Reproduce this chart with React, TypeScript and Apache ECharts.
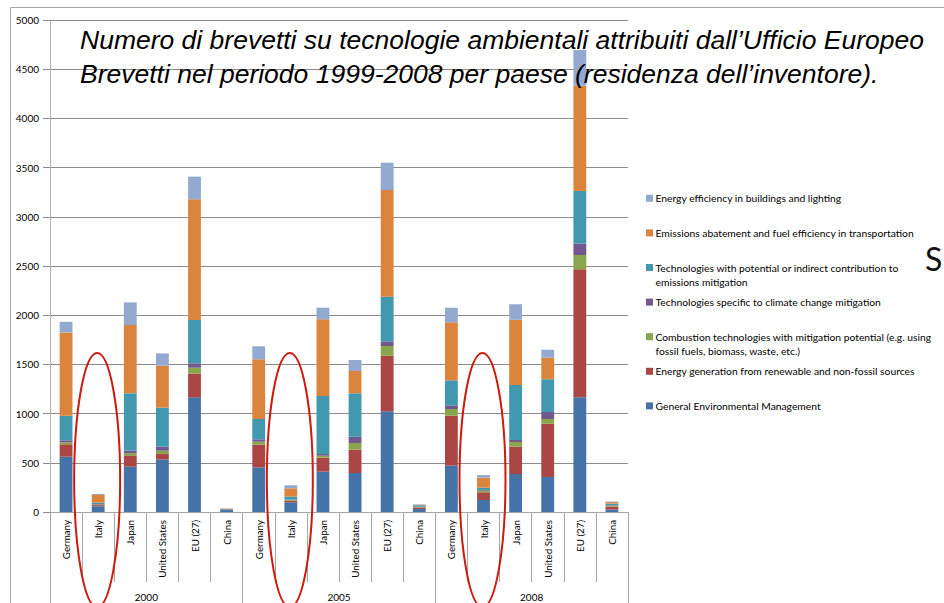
import React, { useEffect, useRef } from 'react';
import * as echarts from 'echarts';

const years = ['2000', '2005', '2008'];
const countries = ['Germany', 'Italy', 'Japan', 'United States', 'EU (27)', 'China'];
const categoryLabels = years.flatMap(() => countries);

// Legend labels (with the line breaks used in the reference); series order bottom -> top
const legendLabels = [
  'General Environmental Management',
  'Energy generation from renewable and non-fossil sources',
  'Combustion technologies with mitigation potential (e.g. using\nfossil fuels, biomass, waste, etc.)',
  'Technologies specific to climate change mitigation',
  'Technologies with potential or indirect contribution to\nemissions mitigation',
  'Emissions abatement and fuel efficiency in transportation',
  'Energy efficiency in buildings and lighting',
];
const seriesColors = ['#4572A7', '#AA4643', '#89A54E', '#71588F', '#4198AF', '#DB843D', '#93A9CF'];

// values per category: 2000 (DE, IT, JP, US, EU27, CN), 2005 (...), 2008 (...)
const generalEnvMgmt = [562, 58, 460, 535, 1165, 20, 454, 98, 410, 396, 1023, 30, 471, 122, 386, 356, 1165, 25];
const energyGeneration = [126, 12, 116, 54, 241, 5, 230, 17, 142, 237, 565, 15, 508, 78, 278, 541, 1301, 30];
const combustionTech = [20, 5, 24, 34, 61, 2, 31, 7, 20, 68, 99, 5, 68, 17, 47, 48, 146, 10];
const climateSpecific = [20, 5, 23, 41, 44, 2, 24, 5, 17, 64, 48, 3, 37, 7, 21, 71, 115, 5];
const indirectContribution = [250, 15, 583, 396, 440, 3, 206, 29, 590, 441, 453, 15, 254, 23, 559, 333, 535, 15];
const emissionsAbatement = [847, 78, 694, 427, 1227, 3, 607, 85, 779, 227, 1084, 5, 590, 102, 663, 219, 1070, 15];
const energyEfficiency = [108, 10, 230, 125, 230, 2, 132, 30, 118, 112, 278, 5, 148, 27, 157, 81, 363, 7];

const seriesValues = [
  generalEnvMgmt,
  energyGeneration,
  combustionTech,
  climateSpecific,
  indirectContribution,
  emissionsAbatement,
  energyEfficiency,
];

const yMin = 0;
const yMax = 5000;
const yInterval = 500;

const titleText =
  'Numero di brevetti su tecnologie ambientali attribuiti dall\u2019Ufficio Europeo\nBrevetti nel periodo 1999-2008 per paese (residenza dell\u2019inventore).';

const labelFont = 'Lato, "Noto Sans", sans-serif';

export default function App() {
  const ref = useRef<HTMLDivElement>(null);

  useEffect(() => {
    const chart = echarts.init(ref.current!, null, { renderer: 'svg' });
    chart.setOption({
      animation: false,
      backgroundColor: '#ffffff',
      title: {
        text: titleText,
        left: 80,
        top: 23,
        padding: 0,
        z: 10,
        textStyle: {
          fontFamily: '"Liberation Sans", Arial, sans-serif',
          fontStyle: 'italic',
          fontWeight: 'normal',
          fontSize: 26.5,
          lineHeight: 34,
          color: '#000',
        },
      },
      grid: { left: 50, right: 316, top: 20, bottom: 91, containLabel: false },
      xAxis: [
        {
          type: 'category',
          data: categoryLabels,
          position: 'bottom',
          axisLine: { show: true, lineStyle: { color: '#a6a6a6', width: 1 } },
          axisTick: { show: true, interval: 0, length: 70, lineStyle: { color: '#a6a6a6' } },
          axisLabel: {
            interval: 0,
            rotate: 90,
            margin: 8,
            color: '#000',
            fontFamily: labelFont,
            fontSize: 9.8,
          },
          splitLine: { show: false },
        },
        {
          type: 'category',
          data: years,
          position: 'bottom',
          axisLine: { show: false },
          axisTick: { show: true, interval: 0, length: 91, lineStyle: { color: '#a6a6a6' } },
          axisLabel: { interval: 0, margin: 80, color: '#000', fontFamily: labelFont, fontSize: 10 },
          splitLine: { show: false },
        },
      ],
      yAxis: {
        type: 'value',
        min: yMin,
        max: yMax,
        interval: yInterval,
        axisLine: { show: true, lineStyle: { color: '#b3b3b3' } },
        axisTick: { show: true, length: 7, lineStyle: { color: '#8c8c8c' } },
        axisLabel: {
          margin: 11,
          color: '#000',
          fontFamily: labelFont,
          fontSize: 10,
          formatter: (v: number) => String(v),
        },
        splitLine: { show: true, lineStyle: { color: '#8c8c8c', width: 1 } },
      },
      series: seriesValues.map((vals, i) => ({
        type: 'bar',
        name: legendLabels[i].replace('\n', ' '),
        stack: 'total',
        xAxisIndex: 0,
        barWidth: '40%',
        data: vals,
        itemStyle: { color: seriesColors[i] },
        emphasis: { disabled: true },
      })),
    });

    // annotations: red ellipses around Italy, legend, frame
    const italyIdx = categoryLabels.map((c, i) => (c === 'Italy' ? i : -1)).filter((i) => i >= 0);
    const ellipseTopY = chart.convertToPixel({ yAxisIndex: 0 }, 1615) as number;
    const ry = 127;
    const ellipses = italyIdx.map((i) => {
      const cx = chart.convertToPixel({ xAxisIndex: 0 }, i) as number;
      return {
        type: 'ellipse',
        silent: true,
        z: 50,
        shape: { cx: cx - 1, cy: ellipseTopY + ry, rx: 23, ry },
        style: { fill: 'none', stroke: '#CC1A0C', lineWidth: 2 },
      };
    });

    const legendItems: any[] = [];
    const order = [6, 5, 4, 3, 2, 1, 0];
    order.forEach((si, k) => {
      const top = 191.3 + k * 34.6;
      legendItems.push({
        type: 'rect',
        silent: true,
        z: 50,
        shape: { x: 646, y: top + 3.5, width: 7, height: 7 },
        style: { fill: seriesColors[si] },
      });
      legendItems.push({
        type: 'text',
        silent: true,
        z: 50,
        x: 655.5,
        y: top,
        style: {
          text: legendLabels[si],
          fill: '#000',
          fontFamily: labelFont,
          fontSize: 10.3,
          lineHeight: 14,
          verticalAlign: 'top',
          align: 'left',
        },
      });
    });

    chart.setOption({
      graphic: [
        {
          type: 'rect',
          silent: true,
          z: 0,
          shape: { x: 10.5, y: 7.5, width: 1200, height: 800 },
          style: { fill: 'none', stroke: '#a6a6a6', lineWidth: 1 },
        },
        ...ellipses,
        ...legendItems,
        {
          type: 'text',
          silent: true,
          z: 50,
          x: 925,
          y: 242,
          style: { text: 'S', fill: '#111', fontFamily: labelFont, fontSize: 32, verticalAlign: 'top' },
        },
      ],
    });

    return () => chart.dispose();
  }, []);

  return (
    <div
      ref={ref}
      style={{ position: 'fixed', left: 0, top: 0, width: 944, height: 603, background: '#fff' }}
    />
  );
}
